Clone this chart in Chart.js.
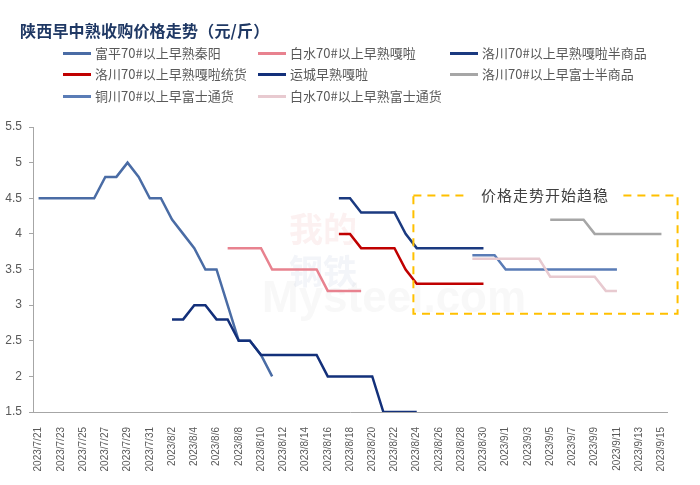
<!DOCTYPE html>
<html>
<head>
<meta charset="utf-8">
<script src="https://cdn.jsdelivr.net/npm/chart.js@4"></script>
<style>
  body { margin: 0; background: #fff; }
  #wrap { position: relative; width: 700px; height: 485px; }
  #title { position: absolute; left: 20px; top: 18px; font: bold 16px "Noto Sans CJK SC"; color: #1f3864; letter-spacing: 0.2px; }
  #legend { position: absolute; left: 0; top: 0; }
  .item { position: absolute; font: 13px "Noto Sans CJK SC"; color: #595959; white-space: nowrap; line-height: 18px; }
  .item span { display: inline-block; width: 28px; height: 3px; margin-right: 4px; vertical-align: middle; position: relative; top: -1px; }
</style>
</head>
<body>
<div id="wrap">
  <canvas id="myChart" width="700" height="485"></canvas>
  <div id="title">陕西早中熟收购价格走势（元/斤）</div>
  <div id="legend"></div>
</div>
<script>
// dates 2023/7/21 .. 2023/9/15, one per day
const dates = [
    '2023/7/21', '2023/7/22', '2023/7/23', '2023/7/24', '2023/7/25', '2023/7/26', '2023/7/27', '2023/7/28',
    '2023/7/29', '2023/7/30', '2023/7/31', '2023/8/1', '2023/8/2', '2023/8/3', '2023/8/4', '2023/8/5',
    '2023/8/6', '2023/8/7', '2023/8/8', '2023/8/9', '2023/8/10', '2023/8/11', '2023/8/12', '2023/8/13',
    '2023/8/14', '2023/8/15', '2023/8/16', '2023/8/17', '2023/8/18', '2023/8/19', '2023/8/20', '2023/8/21',
    '2023/8/22', '2023/8/23', '2023/8/24', '2023/8/25', '2023/8/26', '2023/8/27', '2023/8/28', '2023/8/29',
    '2023/8/30', '2023/8/31', '2023/9/1', '2023/9/2', '2023/9/3', '2023/9/4', '2023/9/5', '2023/9/6',
    '2023/9/7', '2023/9/8', '2023/9/9', '2023/9/10', '2023/9/11', '2023/9/12', '2023/9/13', '2023/9/14',
    '2023/9/15'
];
const _ = null;

const fuping = [4.5, 4.5, 4.5, 4.5, 4.5, 4.5, 4.8, 4.8, 5.0, 4.8, 4.5, 4.5, 4.2, 4.0, 3.8, 3.5,
    3.5, 3.0, 2.5, 2.5, 2.3, 2.0];
const baishuiGala = [_, _, _, _, _, _, _, _, _, _, _, _, _, _, _, _,
    _, 3.8, 3.8, 3.8, 3.8, 3.5, 3.5, 3.5, 3.5, 3.5, 3.2, 3.2, 3.2, 3.2];
const luochuanGalaSemi = [_, _, _, _, _, _, _, _, _, _, _, _, _, _, _, _,
    _, _, _, _, _, _, _, _, _, _, _, 4.5, 4.5, 4.3, 4.3, 4.3,
    4.3, 4.0, 3.8, 3.8, 3.8, 3.8, 3.8, 3.8, 3.8];
const luochuanGalaBulk = [_, _, _, _, _, _, _, _, _, _, _, _, _, _, _, _,
    _, _, _, _, _, _, _, _, _, _, _, 4.0, 4.0, 3.8, 3.8, 3.8,
    3.8, 3.5, 3.3, 3.3, 3.3, 3.3, 3.3, 3.3, 3.3];
const yuncheng = [_, _, _, _, _, _, _, _, _, _, _, _, 2.8, 2.8, 3.0, 3.0,
    2.8, 2.8, 2.5, 2.5, 2.3, 2.3, 2.3, 2.3, 2.3, 2.3, 2.0, 2.0, 2.0, 2.0, 2.0, 1.5,
    1.5, 1.5, 1.5];
const luochuanFujiSemi = [_, _, _, _, _, _, _, _, _, _, _, _, _, _, _, _,
    _, _, _, _, _, _, _, _, _, _, _, _, _, _, _, _,
    _, _, _, _, _, _, _, _, _, _, _, _, _, _, 4.2, 4.2,
    4.2, 4.2, 4.0, 4.0, 4.0, 4.0, 4.0, 4.0, 4.0];
const tongchuanFuji = [_, _, _, _, _, _, _, _, _, _, _, _, _, _, _, _,
    _, _, _, _, _, _, _, _, _, _, _, _, _, _, _, _,
    _, _, _, _, _, _, _, 3.7, 3.7, 3.7, 3.5, 3.5, 3.5, 3.5, 3.5, 3.5,
    3.5, 3.5, 3.5, 3.5, 3.5];
const baishuiFuji = [_, _, _, _, _, _, _, _, _, _, _, _, _, _, _, _,
    _, _, _, _, _, _, _, _, _, _, _, _, _, _, _, _,
    _, _, _, _, _, _, _, 3.65, 3.65, 3.65, 3.65, 3.65, 3.65, 3.65, 3.4, 3.4,
    3.4, 3.4, 3.4, 3.2, 3.2];

const seriesNames = ['富平70#以上早熟秦阳', '白水70#以上早熟嘎啦', '洛川70#以上早熟嘎啦半商品',
    '洛川70#以上早熟嘎啦统货', '运城早熟嘎啦', '洛川70#以上早富士半商品',
    '铜川70#以上早富士通货', '白水70#以上早熟富士通货'];
const seriesData = [fuping, baishuiGala, luochuanGalaSemi, luochuanGalaBulk, yuncheng,
    luochuanFujiSemi, tongchuanFuji, baishuiFuji];
const seriesColors = ['#4a6ca5', '#e8828f', '#1b3a80', '#c00000', '#13307a', '#a6a6a6', '#5a7cb6', '#e8cad0'];

const boxNote = '价格走势开始趋稳';

// faint watermark in the middle of the plot
const watermark = {
    id: 'watermark',
    beforeDatasetsDraw(chart) {
        const c = chart.ctx;
        c.save();
        c.textBaseline = 'alphabetic';
        c.font = 'bold 34px "Noto Sans CJK SC"';
        c.fillStyle = 'rgba(215,60,60,0.07)';
        c.fillText('我的', 289, 242);
        c.fillStyle = 'rgba(50,80,160,0.06)';
        c.fillText('钢铁', 289, 284);
        c.font = 'bold 44px "Liberation Sans"';
        c.fillStyle = 'rgba(170,170,170,0.08)';
        c.fillText('Mysteel.com', 262, 312);
        c.restore();
    }
};

// dashed box marking the flat part
const noteBox = {
    id: 'noteBox',
    afterDatasetsDraw(chart) {
        const c = chart.ctx;
        const x = chart.scales.x, y = chart.scales.y;
        const l = x.getPixelForValue(33.7), r = x.getPixelForValue(57.45);
        const t = y.getPixelForValue(4.54), b = y.getPixelForValue(2.88);
        c.save();
        c.strokeStyle = '#ffc000';
        c.lineWidth = 2;
        c.setLineDash([8, 6]);
        c.strokeRect(l, t, r - l, b - t);
        c.setLineDash([]);
        c.font = '15px "Noto Sans CJK SC"';
        c.letterSpacing = '1px';
        const w = c.measureText(boxNote).width;
        const cx = 545;
        c.fillStyle = '#fff';
        c.fillRect(cx - w / 2 - 12, t - 4, w + 24, 8);
        c.fillStyle = '#404040';
        c.textAlign = 'center';
        c.textBaseline = 'middle';
        c.fillText(boxNote, cx, t);
        c.restore();
    }
};

function createPriceChart() {
    const ctx = document.getElementById('myChart');

    var datasets = seriesNames.map((name, i) => ({
        label: name,
        data: seriesData[i],
        borderColor: seriesColors[i],
        backgroundColor: seriesColors[i],
        borderWidth: 2.5,
        pointRadius: 0,
        tension: 0,
        spanGaps: false,
        order: 8 - i
    }));

    new Chart(ctx, {
        type: 'line',
        data: {
            labels: dates,
            datasets: datasets
        },
        options: {
            responsive: false,
            animation: false,
            layout: {
                padding: { left: 0, right: 33, top: 127, bottom: 0 }
            },
            plugins: {
                legend: { display: false },
                tooltip: { enabled: false }
            },
            scales: {
                x: {
                    offset: true,
                    grid: { display: false },
                    border: { display: true, color: '#a6a6a6', width: 1 },
                    ticks: {
                        autoSkip: false,
                        maxRotation: 90,
                        minRotation: 90,
                        padding: 7,
                        color: '#595959',
                        font: { family: 'Liberation Sans', size: 10 },
                        callback: (v, i) => i % 2 === 0 ? dates[i] : ''
                    },
                    afterFit: (s) => { s.height = 73; }
                },
                y: {
                    min: 1.5,
                    max: 5.5,
                    grid: { display: true, drawOnChartArea: false, tickLength: 4, color: '#a6a6a6' },
                    border: { display: true, color: '#a6a6a6', width: 1 },
                    ticks: {
                        stepSize: 0.5,
                        padding: 7,
                        color: '#595959',
                        font: { family: 'Liberation Sans', size: 12 },
                        callback: (v) => String(v)
                    },
                    afterFit: (s) => { s.width = 33; }
                }
            }
        },
        plugins: [watermark, noteBox]
    });

    // legend in three columns
    const cols = [63, 258, 450], rows = [44, 65, 87];
    const box = document.getElementById('legend');
    seriesNames.forEach((name, i) => {
        const d = document.createElement('div');
        d.className = 'item';
        d.style.left = cols[i % 3] + 'px';
        d.style.top = rows[Math.floor(i / 3)] + 'px';
        d.innerHTML = '<span style="background:' + seriesColors[i] + '"></span>' + name;
        box.appendChild(d);
    });
}

createPriceChart();
</script>
</body>
</html>
